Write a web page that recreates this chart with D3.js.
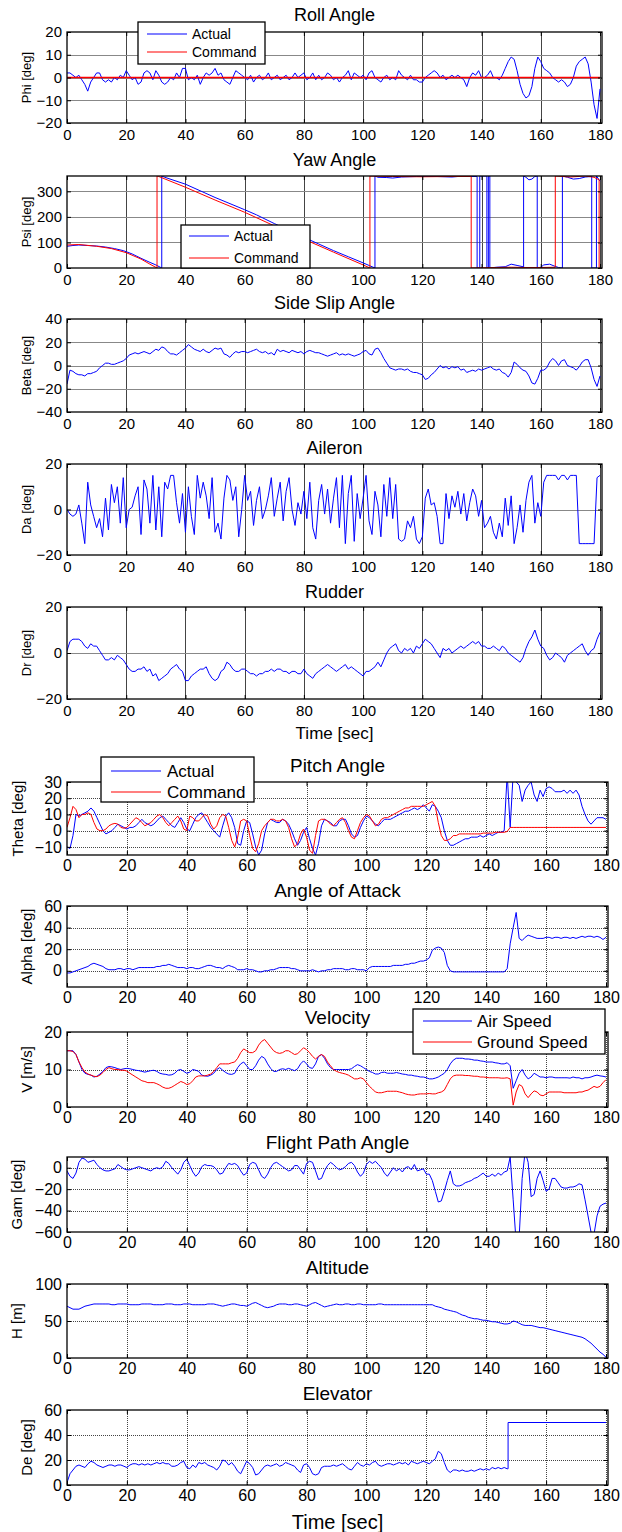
<!DOCTYPE html>
<html>
<head>
<meta charset="utf-8">
<script src="https://cdn.jsdelivr.net/npm/d3@7"></script>
<style>
  body { margin: 0; background: #fff; }
  svg { display: block; }
  text { font-family: "Liberation Sans", Arial, sans-serif; fill: #000; }
</style>
</head>
<body>
<svg id="chart" width="622" height="1532"></svg>
<script>
// ---- data (1 s samples from t = 0 unless a time array is given) ----
const phiActual = [
  2,2,1,0,1,-1,-3,-6,-2,0, 2,2,-1,-2,-1,-2,0,-1,1,0, 3,1,-1,0,-3,-2,2,3,2,-1,
  3,1,-2,-3,-2,0,-1,2,0,4, 4,-1,0,-1,1,-3,0,2,1,2, 4,1,2,-1,-2,-3,0,3,2,1,
  0,-1,1,-2,0,1,-1,0,2,-1, 0,1,-1,0,1,-1,0,2,0,1, 2,-1,0,2,-1,1,-1,0,2,1,
  -1,0,-2,0,1,3,-1,2,1,0, 1,-1,2,3,0,-1,-2,0,1,-1, 0,-1,3,1,0,-1,1,-1,-1,-2,
  -2,0,1,2,3,2,0,1,-1,0, 1,0,1,0,-1,-4,0,2,1,3, 0,0,1,3,0,0,-1,1,4,7,
  9,8,3,-3,-7,-9,-8,-4,4,9, 7,4,3,2,0,-1,-2,-1,-2,-4, -3,0,5,7,8,9,6,-2,-12,-18,
  -5];
const phiCmdT = [0, 180];
const phiCmd = [0, 0];

const psiActT = [0,2,4,7,10,13,16,19,22,25,28,30,31.5,32,32,33,40,50,60,64,70,80,85,90,95,100,103,104,104,105,108,110,113,118,125,130,132,
  138.5,138.5,139.4,139.4,141.8,141.8,142.3,142.3,142.8,142.8,145,148,150,152,154,154.2,154.2,155,156,157,158,158.8,158.8,160,161,163,164.5,166,
  167.3,167.3,169,171,173,175,177,177.2,177.2,178.8,178.8,180];
const psiAct = [85,88,90,88,86,82,76,68,55,38,22,12,3,0,360,355,328,276,228,208,174,120,94,68,44,20,5,0,360,355,354,352,356,358,358,356,358,
  358,0,0,360,360,0,0,360,360,0,3,5,15,10,5,0,360,355,345,348,358,360,0,3,12,15,8,2,
  0,360,355,348,350,356,358,360,0,0,360,340];
const psiCmdT = [0,4,10,15,20,25,28,30.4,30.4,31,40,50,60,70,80,90,100,102.3,102.3,110,120,130,136.5,136.5,145,150,155,160,164.9,164.9,
  170,175,178,179.7,179.7,180];
const psiCmd = [90,92,85,76,60,35,15,0,360,358,316,266,218,165,113,62,12,0,360,358,357,358,358,0,2,3,2,2,3,360,
  356,360,355,345,0,0];

const beta = [
  -16,-4,-5,-7,-8,-8,-9,-7,-7,-6, -5,-2,0,2,2,1,1,2,3,4, 6,9,10,11,10,11,12,11,10,12,
  14,13,16,15,12,10,10,9,11,13, 15,18,16,14,13,12,14,12,11,13, 15,14,15,10,9,7,10,12,11,12,
  12,11,12,13,14,12,11,12,10,11, 9,14,12,13,12,11,13,12,11,12, 10,12,13,12,11,11,10,9,8,9,
  10,11,9,10,9,10,9,8,9,10, 12,13,10,9,14,15,11,6,2,-2, -3,-4,-3,-3,-4,-3,-5,-6,-6,-7,
  -8,-12,-11,-8,-6,-3,0,-2,-1,-3, -1,-2,-1,-4,-3,-6,-5,-4,-5,-3, -4,-3,-2,-1,-3,-4,-3,-6,-7,-10,
  -6,3,1,-2,-4,-5,-9,-15,-16,-11, -4,-4,-2,3,6,4,0,4,5,0, -1,-2,-4,-1,3,5,5,-2,-12,-18,
  -9];

const aileron = [
  0,-2,-3,-2,2,-6,-15,12,2,-3, -8,-4,-12,5,-9,11,3,10,-6,14, -8,0,1,6,10,-11,13,9,-6,15,
  -9,10,-12,12,9,15,15,3,-6,7, -10,10,-3,-11,15,5,12,6,-4,14, -10,-6,-13,5,15,13,4,10,-12,0,
  15,4,8,-7,4,10,-4,0,6,14, -3,5,12,-5,8,14,0,-7,3,-2, 8,-4,12,-8,-13,4,11,-2,9,-6,
  5,14,-8,15,-15,7,15,-14,7,-4, 5,15,-5,-11,8,2,-12,11,-3,14, -4,11,-13,-14,-13,-5,-8,-3,-13,-15,
  -12,5,9,2,3,-3,-15,-15,7,-4, 6,1,8,-2,7,-5,3,9,6,-3, 4,-8,-6,-3,-10,-13,-6,-12,5,-7,
  6,-15,-8,2,-10,4,12,15,-6,3, -3,12,15,15,15,15,13,15,15,13, 15,15,15,-15,-15,-15,-15,-15,-15,14,
  15];

const rudder = [
  1,5,6,6,6,5,3,2,4,3, 3,1,-1,-3,-3,-2,-3,-1,-2,-3, -5,-7,-8,-8,-7,-7,-6,-8,-7,-10,
  -9,-12,-11,-10,-9,-7,-6,-5,-7,-8, -12,-12,-10,-9,-8,-7,-7,-6,-9,-11, -12,-11,-8,-7,-4,-5,-7,-8,-8,-7,
  -7,-8,-9,-9,-10,-9,-9,-8,-8,-7, -8,-7,-7,-8,-8,-9,-8,-8,-9,-9, -7,-9,-10,-11,-9,-8,-7,-6,-5,-6,
  -7,-8,-7,-6,-5,-7,-6,-7,-8,-9, -10,-8,-8,-7,-6,-4,-6,-3,0,2, 3,4,1,0,2,1,2,0,3,2,
  4,6,5,4,2,0,-2,2,1,2, 0,1,2,3,2,3,4,5,4,5, 3,3,2,2,3,2,1,3,2,0,
  -1,-2,-3,-4,-2,2,5,7,10,6, 3,2,-1,-3,-2,0,-1,-2,-4,-1, 0,1,2,3,4,1,-1,1,2,6,
  9];

const thetaAct = [
  -10,-11,-3,10,9,10,11,12,14,12, 8,4,0,-2,-1,0,2,4,3,2, 1,2,2,3,5,7,5,4,3,4,
  6,8,9,7,5,3,2,5,8,5, 1,0,4,8,10,11,8,5,2,0, -2,-4,3,9,11,8,2,-8,-9,0,
  6,5,-2,-10,-15,-12,-2,5,7,6, 5,5,7,6,4,0,-5,-9,-6,-1, 2,-5,-11,-15,-8,3,7,6,5,3,
  3,6,7,7,3,-2,-4,-3,2,6, 9,8,6,4,3,5,7,7,7,8, 9,10,11,12,12,13,14,13,14,16,
  14,12,16,15,12,8,0,-6,-9,-9, -8,-7,-6,-5,-5,-4,-4,-4,-3,-4, -3,-2,-3,-2,-1,-1,0,35,2,35,
  30,28,18,25,28,30,22,18,25,21, 26,27,26,24,24,24,25,23,25,23, 25,22,15,10,6,4,6,8,8,8,
  7];
const thetaCmd = [
  2,8,15,13,8,10,10,11,10,5, 1,0,0,1,3,4,4.5,4,2,1.5, 2,4,6,8,7,5,3,4,5,7,
  9,10,8,5,3,5,7,9,6,1, 0,9,8,6,6,8,10,9,4,1, 3,8,10,9,2,-6,-10,-4,6,7,
  6,-3,-11,-13,-8,0,3,5,7,7, 6,6,7,6,2,-5,-10,-8,-2,1, -4,-12,-14,-3,6,7,7,6,4,3,
  5,7,8,5,0,-4,-5,0,5,8, 10,9,6,3,4,7,8,8,9,10, 11,12,13,14,14,15,15,15,15,15,
  16,17,18,15,5,-3,-6,-6,-5,-3, -3,-2,-2,-2,-2,-2,-2,-2,-2,-1.5, -1.5,-1.5,-1.5,-1,-1,-1,-1,-0.5,2,2,
  2,2,2,2,2,2,2,2,2,2, 2,2,2,2,2,2,2,2,2,2, 2,2,2,2,2,2,2,2,2,2,
  2];

const alpha = [
  -2,-2,-1,0,1,2,3,4,6,7, 6,5,4,2,1,1,1,2,2,1, 2,2,1,2,3,3,3,3,3,3,
  4,4,5,5,6,5,4,3,3,3, 2,3,3,2,2,3,4,5,5,4, 3,3,2,4,5,4,3,1,1,1,
  2,1,1,0,-1,-1,0,0,1,1, 2,3,3,3,3,2,2,1,0,0, 0,0,1,0,-1,0,0,1,1,2,
  2,2,2,1,1,2,2,1,1,1, 0,3,4,4,4,4,4,4,4,5, 5,5,5,6,6,7,7,8,9,9,
  10,12,19,21,22,21,17,5,0,-1, -1,-1,-1,-1,-1,-1,-1,-1,-1,-1, -1,-1,-1,-1,-1,-1,-1,2,25,40,
  54,30,28,31,33,32,31,30,30,30, 31,31,30,31,31,30,31,31,30,31, 30,31,32,31,32,32,31,32,31,29,
  31];

const vAir = [
  15,15,15,14,12,10,9,8.7,8.5,8, 8.2,8.8,9.5,10.5,10.8,10.7,10.5,10.2,10,10.2, 10.3,10.2,10,9.8,9.7,9.5,9.3,9.5,9.7,9.8,
  9.5,9,8.8,8.7,8.5,8.6,9,9.8,10,9.5, 9,9.3,10,9.8,9.5,8.5,8.3,8.2,8.5,9, 10,10.5,9.8,9.2,8.8,8.7,9,10.5,11.5,12,
  11,10,10,11,12.5,13.5,13,11.5,10.3,9.5, 9.5,10,10.2,10,10.3,10,9.7,10.2,11.5,12.3, 11.5,10.5,10.3,11.5,13.5,14,13,11.5,10.5,10,
  10,10,10,10,10,10.2,10.8,11.3,11,10.5, 10,9.5,9.2,8.8,8.8,9.2,9.3,9,9,9, 9.2,9,8.8,8.7,8.5,8.5,8.3,8.2,8,8,
  7.8,7.5,7.5,7.7,8,8.5,9,10,11.5,12.5, 13,13,13,12.8,12.8,12.7,12.5,12.5,12.3,12.2, 12,12,12,11.8,11.7,11.5,11.5,11.8,11,5,
  7,9,10,8.5,7.5,8,9,8.5,8,8, 7.8,8,8,7.8,7.8,7.8,7.8,7.8,7.7,8, 7.8,7.8,7.5,7.8,7.8,8,8.3,8.5,8.3,8.2,
  8];
const vGround = [
  15,15,14.8,14,12,10.5,9.3,8.8,8.5,8.2, 8.1,8.5,9.2,10,10.5,10.2,10,10,9.8,9.8, 9.6,9,8.5,8,7.5,7,6.8,6.5,6.5,6.5,
  6.2,5.8,5.3,5,5,5.3,5.8,6.3,6.8,6.5, 6,6.2,7,8,8.3,8.3,8.3,8.5,8.8,9.5, 10.5,11.5,11.5,11.5,11.5,11.8,12,13,14.5,15.5,
  15,14.5,14.5,15,16.5,17.5,18,17,16,15, 14.5,14.3,14.5,15,15,14.5,14,14.2,15,15.8, 15.3,14.5,13.5,12.8,13.5,14,13.5,12,11,10,
  9.5,9.2,9,8.8,8.5,8,7.5,7.5,7.8,7.5, 6.5,5.5,4.8,4,3.8,3.8,4,4.2,4.2,4.2, 4.2,4,3.8,3.5,3.3,3.2,3.2,3.4,3.5,3.5,
  3.5,3.6,3.5,3.5,3.8,4,4.5,6,7.5,8.3, 8.5,8.5,8.5,8.4,8.4,8.3,8.2,8.2,8,8, 7.9,7.8,7.8,7.8,7.8,7.7,7.7,7.8,7.5,0.5,
  4,6,5.5,3.5,2.5,3.5,4.3,4,3.2,3, 3.5,4,4,4,4,4,3.8,3.8,3.8,3.8, 3.8,4,4,4.3,4.5,5,5.5,5.2,5.5,6.5,
  7.3];

const gamma = [
  -3,-8,-10,-5,5,9,8,5,6,7, 3,0,-2,-3,-3,-2,-1,3,1,-1, -2,-2,-1,0,1,0,-1,-2,-3,-1,
  0,-1,1,6,4,0,-3,-6,-2,5, 8,2,-4,-8,-5,1,3,2,2,1, -2,-6,-5,0,4,3,4,2,-3,-7,
  -5,3,5,4,-2,-8,-10,-6,0,4, 5,3,1,-1,-3,-2,2,2,-2,-6, 4,6,5,-3,-11,-10,-3,2,5,3,
  0,-2,-1,1,4,5,2,-4,-8,-5, 3,6,4,6,3,0,-5,-8,-4,0, -3,-1,-4,0,1,-2,3,-3,-2,-1,
  -6,-6,-12,-22,-32,-31,-22,-12,-3,-15, -17,-17,-16,-14,-13,-12,-10,-9,-7,-5, -8,-8,-6,-8,-5,-7,-4,-3,10,-30,
  -70,-65,-10,15,5,-27,-25,-10,-3,-12, -22,-20,-10,-10,-14,-18,-19,-19,-18,-18, -17,-15,-16,-30,-45,-60,-62,-45,-36,-34,
  -33];

const altitude = [
  70,68,66,66,66,68,70,71,72,73, 73,73,73,73,73,72,72,73,73,73, 73,72,72,72,72,73,73,73,73,72,
  72,72,72,73,73,73,72,72,72,73, 73,73,72,72,72,72,72,73,73,73, 72,71,70,71,72,73,73,72,71,71,
  70,72,74,75,73,71,69,68,69,70, 72,73,73,73,72,72,73,73,72,71, 70,72,74,75,73,71,69,70,71,72,
  73,72,72,73,73,72,72,73,73,72, 72,72,72,72,73,73,72,72,72,72, 72,72,72,72,72,72,72,72,72,72,
  72,72,72,70,69,68,66,65,64,63, 62,60,58,57,55,54,53,53,52,51, 51,50,49,49,48,47,46,46,47,50,
  49,47,45,44,44,44,43,42,41,41, 40,39,38,37,36,35,34,33,32,31, 30,29,28,26,23,20,16,12,8,5,
  1];

const elevator = [
  2,9,12,15,16,15,14,17,19,18, 16,15,14,15,16,16,15,16,16,15, 14,16,17,17,16,17,16,17,16,17,
  18,17,18,17,17,15,15,16,18,19, 14,13,16,14,18,17,18,16,15,14, 12,15,20,19,16,18,15,11,9,14,
  19,17,14,8,9,12,15,16,15,16, 17,15,16,18,17,16,15,12,10,16, 17,14,9,8,9,14,15,15,15,16,
  15,16,17,15,13,12,15,18,16,15, 17,16,18,19,16,15,16,17,17,16, 17,18,17,18,16,19,18,17,18,19,
  18,17,19,21,27,25,18,12,10,12, 12,11,12,11,11,12,11,12,13,12, 13,12,14,13,14,13,14,13];
const elevatorTailT = [147.3, 147.3, 180];
const elevatorTail = [13, 50, 50];

const xTicks = [0, 20, 40, 60, 80, 100, 120, 140, 160, 180];

// ---- helpers ----
const T = d3.range(0, 181);
const pts = (vals, t) => vals.map((v, i) => [(t || T)[i], v]);
const BLUE = '#0000ff', RED = '#ff0000';

const groups = {
  top: { x0: 67, x1: 600, edge: 602, tick: 15, title: 18, ylab: 13, legend: 14, pad: 6,
         vgrid: '#444', hgrid: '#888', dash: null, xlabY: 739, xlabSize: 17 },
  bot: { x0: 67, x1: 606, edge: 608, tick: 16, title: 19, ylab: 15, legend: 17, pad: 5,
         vgrid: '#444', hgrid: '#444', dash: '1,1', xlabY: 1529, xlabSize: 20 }
};

const panels = [
  { g: 'top', title: 'Roll Angle', ylab: 'Phi [deg]', labX: 26, titleY: 15, top: 32, bot: 123, dom: [-20, 20], ticks: [-20, -10, 0, 10, 20],
    series: [{ d: pts(phiActual), c: BLUE }, { d: pts(phiCmd, phiCmdT), c: RED, w: 1.5 }],
    legend: { x: 138, y: 22, w: 127, h: 42, lx: [147, 187], tx: 192, ly: [34, 52], items: [['Actual', BLUE], ['Command', RED]] } },
  { g: 'top', title: 'Yaw Angle', ylab: 'Psi [deg]', labX: 26, titleY: 160, top: 176, bot: 268, dom: [0, 360], ticks: [0, 100, 200, 300],
    series: [{ d: pts(psiAct, psiActT), c: BLUE }, { d: pts(psiCmd, psiCmdT), c: RED }],
    legend: { x: 181, y: 225, w: 129, h: 43, lx: [189, 229], tx: 234, ly: [236, 258], items: [['Actual', BLUE], ['Command', RED]] } },
  { g: 'top', title: 'Side Slip Angle', ylab: 'Beta [deg]', labX: 26, titleY: 303, top: 319, bot: 412, dom: [-40, 40], ticks: [-40, -20, 0, 20, 40],
    series: [{ d: pts(beta), c: BLUE }] },
  { g: 'top', title: 'Aileron', ylab: 'Da [deg]', labX: 26, titleY: 448, top: 464, bot: 555, dom: [-20, 20], ticks: [-20, 0, 20],
    series: [{ d: pts(aileron), c: BLUE }] },
  { g: 'top', title: 'Rudder', ylab: 'Dr [deg]', labX: 26, titleY: 592, top: 607, bot: 699, dom: [-20, 20], ticks: [-20, 0, 20],
    series: [{ d: pts(rudder), c: BLUE }], xlab: true },
  { g: 'bot', title: 'Pitch Angle', ylab: 'Theta [deg]', labX: 18, titleY: 765, top: 782, bot: 855, dom: [-15, 30], ticks: [-10, 0, 10, 20, 30],
    series: [{ d: pts(thetaAct), c: BLUE }, { d: pts(thetaCmd), c: RED }],
    legend: { x: 101, y: 757, w: 153, h: 45, lx: [111, 161], tx: 167, ly: [771, 792], items: [['Actual', BLUE], ['Command', RED]] } },
  { g: 'bot', title: 'Angle of Attack', ylab: 'Alpha [deg]', labX: 27, titleY: 890, top: 906, bot: 987, dom: [-15, 60], ticks: [0, 20, 40, 60],
    series: [{ d: pts(alpha), c: BLUE }] },
  { g: 'bot', title: 'Velocity', ylab: 'V [m/s]', labX: 27, titleY: 1017, top: 1032, bot: 1107, dom: [0, 20], ticks: [0, 10, 20],
    series: [{ d: pts(vAir), c: BLUE }, { d: pts(vGround), c: RED }],
    legend: { x: 413, y: 1009, w: 192, h: 45, lx: [423, 472], tx: 477, ly: [1021, 1042], items: [['Air Speed', BLUE], ['Ground Speed', RED]] } },
  { g: 'bot', title: 'Flight Path Angle', ylab: 'Gam [deg]', labX: 17, titleY: 1142, top: 1157, bot: 1232, dom: [-60, 10], ticks: [-60, -40, -20, 0],
    series: [{ d: pts(gamma), c: BLUE }] },
  { g: 'bot', title: 'Altitude', ylab: 'H [m]', labX: 17, titleY: 1267, top: 1284, bot: 1358, dom: [0, 100], ticks: [0, 50, 100],
    series: [{ d: pts(altitude), c: BLUE }] },
  { g: 'bot', title: 'Elevator', ylab: 'De [deg]', labX: 27, titleY: 1393, top: 1410, bot: 1485, dom: [0, 60], ticks: [0, 20, 40, 60],
    series: [{ d: pts(elevator).concat(pts(elevatorTail, elevatorTailT)), c: BLUE }], xlab: true }
];

const svg = d3.select('#chart');
const crisp = v => Math.round(v) + 0.5;

panels.forEach((p, idx) => {
  const g = groups[p.g];
  const x = d3.scaleLinear().domain([0, 180]).range([g.x0, g.x1]);
  const y = d3.scaleLinear().domain(p.dom).range([p.bot, p.top]);
  const root = svg.append('g');

  // grid
  const grid = root.append('g').attr('stroke-width', 1).attr('stroke-dasharray', g.dash);
  xTicks.filter(t => t > 0).forEach(t => {
    grid.append('line').attr('x1', crisp(x(t))).attr('x2', crisp(x(t)))
      .attr('y1', p.top).attr('y2', p.bot).attr('stroke', g.vgrid);
  });
  p.ticks.filter(v => v > p.dom[0] && v < p.dom[1]).forEach(v => {
    grid.append('line').attr('x1', g.x0).attr('x2', g.edge)
      .attr('y1', crisp(y(v))).attr('y2', crisp(y(v))).attr('stroke', g.hgrid);
  });

  // series, clipped to the axes box
  root.append('clipPath').attr('id', 'clip' + idx).append('rect')
    .attr('x', g.x0).attr('y', p.top).attr('width', g.edge - g.x0).attr('height', p.bot - p.top);
  const line = d3.line().x(d => x(d[0])).y(d => y(d[1]));
  p.series.forEach(s => {
    root.append('path').datum(s.d).attr('d', line).attr('fill', 'none')
      .attr('stroke', s.c).attr('stroke-width', s.w || 1).attr('stroke-linejoin', 'round')
      .attr('clip-path', `url(#clip${idx})`);
  });

  // axes box
  root.append('rect').attr('x', g.x0).attr('y', p.top).attr('width', g.edge - g.x0).attr('height', p.bot - p.top)
    .attr('fill', 'none').attr('stroke', '#000').attr('stroke-width', 1.3);

  const style = (sel, size) => {
    sel.select('.domain').remove();
    sel.attr('font-family', null);
    sel.selectAll('text').attr('font-size', size);
    sel.selectAll('line').attr('stroke', '#000');
  };
  root.append('g').attr('transform', `translate(0,${p.bot})`)
    .call(d3.axisBottom(x).tickValues(xTicks).tickSize(-4).tickPadding(g.pad).tickFormat(d3.format('d')))
    .call(s => style(s, g.tick));
  root.append('g').attr('transform', `translate(0,${p.top})`)
    .call(d3.axisTop(x).tickValues(xTicks).tickSize(-4).tickFormat(''))
    .call(s => style(s, g.tick));
  root.append('g').attr('transform', `translate(${g.x0},0)`)
    .call(d3.axisLeft(y).tickValues(p.ticks).tickSize(-4).tickPadding(5).tickFormat(d3.format('d')))
    .call(s => style(s, g.tick));
  root.append('g').attr('transform', `translate(${g.edge},0)`)
    .call(d3.axisRight(y).tickValues(p.ticks).tickSize(-4).tickFormat(''))
    .call(s => style(s, g.tick));

  // title and y label
  root.append('text').attr('x', (g.x0 + g.edge) / 2).attr('y', p.titleY + g.title * 0.36)
    .attr('text-anchor', 'middle').attr('font-size', g.title).text(p.title);
  root.append('text').attr('transform', `translate(${p.labX},${(p.top + p.bot) / 2}) rotate(-90)`)
    .attr('text-anchor', 'middle').attr('dy', '0.35em').attr('font-size', g.ylab).text(p.ylab);

  if (p.xlab) {
    root.append('text').attr('x', (g.x0 + g.edge) / 2).attr('y', g.xlabY)
      .attr('text-anchor', 'middle').attr('font-size', g.xlabSize).text('Time [sec]');
  }

  // legend
  if (p.legend) {
    const L = p.legend;
    const lg = root.append('g');
    lg.append('rect').attr('x', L.x).attr('y', L.y).attr('width', L.w).attr('height', L.h)
      .attr('fill', '#fff').attr('stroke', '#000').attr('stroke-width', 1.3);
    L.items.forEach(([name, col], i) => {
      lg.append('line').attr('x1', L.lx[0]).attr('x2', L.lx[1]).attr('y1', L.ly[i]).attr('y2', L.ly[i])
        .attr('stroke', col).attr('stroke-width', 1.2);
      lg.append('text').attr('x', L.tx).attr('y', L.ly[i]).attr('dy', '0.35em')
        .attr('font-size', g.legend).text(name);
    });
  }
});
</script>
</body>
</html>
